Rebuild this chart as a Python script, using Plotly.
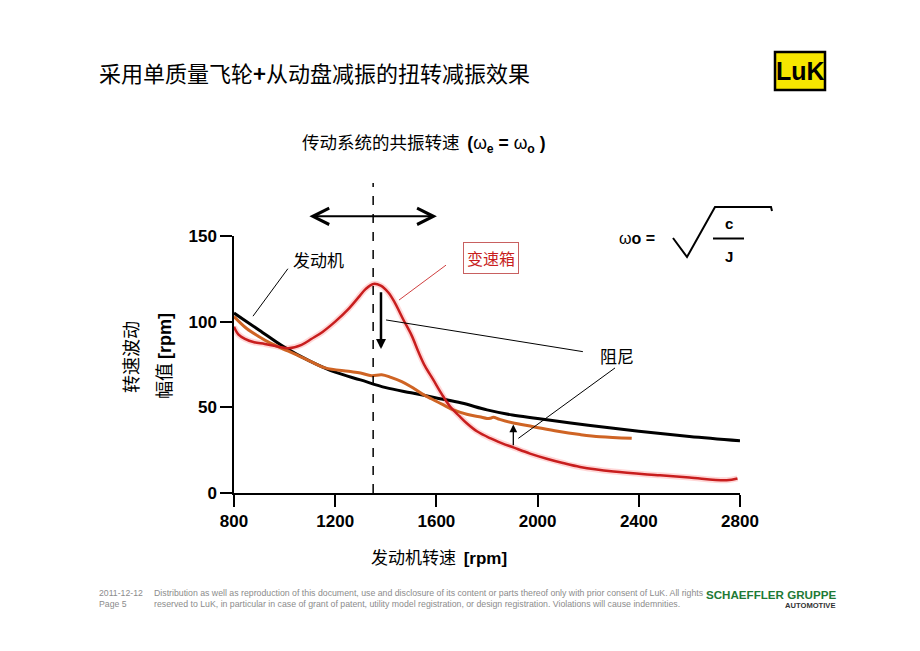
import plotly.graph_objects as go

# engine speed fluctuation (black)
engine_rpm = [800, 900, 1000, 1100, 1200, 1300, 1400, 1500, 1600, 1700, 1800,
              1900, 2000, 2200, 2400, 2600, 2800]
engine_amp = [105, 95, 85, 77, 70.5, 66, 61.5, 58.5, 55.5, 52.5, 48.5,
              45.5, 43.5, 39.5, 36, 33, 30.5]

# gearbox, single mass flywheel without damping (red)
gearbox_rpm = [800, 817, 843, 880, 922, 975, 1015, 1067, 1107, 1150, 1200, 1250,
               1291, 1320, 1351, 1380, 1410, 1436, 1470, 1502, 1530, 1555, 1588,
               1620, 1654, 1690, 1720, 1760, 1812, 1860, 1904, 1970, 2036, 2100,
               2168, 2300, 2484, 2600, 2747, 2790]
gearbox_amp = [97, 92.6, 90, 88, 87, 85.4, 84.5, 86.5, 90, 94, 100, 107,
               114, 119, 122, 121, 117, 111, 101, 92, 82, 74, 66,
               58, 50.5, 45, 40.7, 36, 32, 29, 26.6, 23, 20, 17.5,
               15.2, 12.5, 10.3, 9, 7.4, 8.5]

# gearbox with clutch disc damper (orange)
damped_rpm = [800, 850, 896, 950, 1015, 1100, 1160, 1252, 1300, 1344, 1384, 1420,
              1463, 1500, 1542, 1580, 1620, 1667, 1720, 1770, 1800, 1812, 1825,
              1850, 1900, 1983, 2080, 2168, 2247, 2372]
damped_amp = [103, 96, 91.5, 87, 82.8, 77, 73, 71, 70, 68.5, 69, 67.5,
              65, 62, 58, 55, 52, 48.5, 46, 44.5, 43.5, 43.6, 44.2,
              43, 41, 38.7, 36, 34.1, 32.8, 31.9]

x_ticks = [800, 1200, 1600, 2000, 2400, 2800]
y_ticks = [0, 50, 100, 150]

resonance_rpm = 1350
band_rpm = [1092, 1602]

# page has an 8px body margin, so the figure is a bit smaller than the window
W, H = 904, 635
L, T = 226, 228
PW, PH = 506, 257
R, B = W - L - PW, H - T - PH
X0, X1, Y0, Y1 = 800, 2800, 0, 150

CJK = "Noto Sans CJK SC"
ARIAL = "Liberation Sans"


def pix(x, y):
    # window pixel -> paper coords (plot area spans x 234..740, y 236..493 in the window)
    return (x - 234) / PW, (493 - y) / PH


def dat(rpm, val):
    # data value -> paper coords (for shapes outside the plot area)
    return (rpm - X0) / (X1 - X0), (val - Y0) / (Y1 - Y0)


fig = go.Figure()

# red curve with a soft pink halo
fig.add_trace(go.Scatter(x=gearbox_rpm, y=gearbox_amp, mode="lines",
                         line=dict(color="rgba(255,140,140,0.35)", width=6, shape="spline"),
                         hoverinfo="skip", showlegend=False))
fig.add_trace(go.Scatter(x=engine_rpm, y=engine_amp, mode="lines",
                         line=dict(color="black", width=3, shape="spline"),
                         showlegend=False))
fig.add_trace(go.Scatter(x=damped_rpm, y=damped_amp, mode="lines",
                         line=dict(color="#cf6424", width=3, shape="spline"),
                         showlegend=False))
fig.add_trace(go.Scatter(x=gearbox_rpm, y=gearbox_amp, mode="lines",
                         line=dict(color="#c81e1e", width=2.5, shape="spline"),
                         showlegend=False))

shapes = []
# dashed resonance line
a = dat(resonance_rpm, 0)
b = dat(resonance_rpm, 181)
shapes.append(dict(type="line", xref="paper", yref="paper", x0=a[0], y0=a[1], x1=b[0], y1=b[1],
                   line=dict(color="black", width=1.5, dash="dash")))


def seg(p, q, color="black", width=1):
    shapes.append(dict(type="line", xref="paper", yref="paper",
                       x0=p[0], y0=p[1], x1=q[0], y1=q[1],
                       line=dict(color=color, width=width)))


# leader lines
seg(dat(1013, 130.9), dat(875, 103.2))
seg(dat(1638, 133), dat(1452, 112.6), color="#d04040")
seg(dat(1401, 101), dat(2179, 82.5))
seg(dat(2306, 73), dat(1924, 31.9))

# square root sign and fraction bar
pts = [pix(673, 238), pix(687, 257), pix(715, 207), pix(771, 207), pix(772, 211)]
path = "M " + " L ".join(f"{p[0]},{p[1]}" for p in pts)
shapes.append(dict(type="path", xref="paper", yref="paper", path=path,
                   line=dict(color="black", width=2)))
seg(pix(713, 238.5), pix(744, 238.5), width=2)

# LuK logo box
p, q = pix(775, 52), pix(825, 90)
shapes.append(dict(type="rect", xref="paper", yref="paper", x0=p[0], y0=p[1], x1=q[0], y1=q[1],
                   fillcolor="#f6e600", line=dict(color="black", width=2.5)))

ann = []


def text(x, y, s, size, family=CJK, color="black", xa="center", ya="middle", **kw):
    px_, py_ = pix(x, y)
    ann.append(dict(x=px_, y=py_, xref="paper", yref="paper", text=s, showarrow=False,
                    xanchor=xa, yanchor=ya, font=dict(family=family, size=size, color=color), **kw))


text(97, 72, "采用单质量飞轮<b>+</b>从动盘减振的扭转减振效果", 22, xa="left")
text(800, 71, "<b>LuK</b>", 25, family="Liberation Sans Narrow, Liberation Sans")
text(300, 142, "传动系统的共振转速  <span style='font-family:Liberation Sans'><b>(</b>ω<sub><b>e</b></sub><b> = </b>ω<sub><b>o</b></sub><b> )</b></span>",
     17.5, xa="left")
text(318, 259, "发动机", 17)
text(491, 258, "变速箱", 16, color="#c81e1e", bordercolor="#c86060", borderwidth=1, borderpad=3)
text(617, 355, "阻尼", 17)
text(637, 238, "ω<b>o =</b>", 16, family=ARIAL)
text(729, 223, "<b>c</b>", 15, family=ARIAL)
text(729, 256, "<b>J</b>", 15, family=ARIAL)
text(130, 357, "转速波动", 18, textangle=-90)
text(163, 356, "幅值 <span style='font-family:Liberation Sans'><b>[rpm]</b></span>", 18, textangle=-90)
text(369, 556, "发动机转速  <span style='font-family:Liberation Sans'><b>[rpm]</b></span>", 17, xa="left")

grey = "#8c8c8c"
text(97, 593, "2011-12-12", 8.7, family=ARIAL, color=grey, xa="left")
text(97, 604, "Page 5", 8.7, family=ARIAL, color=grey, xa="left")
text(152, 593, "Distribution as well as reproduction of this document, use and disclosure of its content or parts thereof only with prior consent of LuK. All rights",
     8.75, family=ARIAL, color=grey, xa="left")
text(152, 604, "reserved to LuK, in particular in case of grant of patent, utility model registration, or design registration. Violations will cause indemnities.",
     8.75, family=ARIAL, color=grey, xa="left")
text(838, 594, "<b>SCHAEFFLER GRUPPE</b>", 11.6, family=ARIAL, color="#1e7a36", xa="right")
text(838, 605, "<b>AUTOMOTIVE</b>", 7.6, family=ARIAL, color="#333333", xa="right")

# double arrow marking the resonance band
hx, hy = dat(band_rpm[1], 161.5)
tail_dx = -(band_rpm[1] - band_rpm[0]) / (X1 - X0) * PW
ann.append(dict(x=hx, y=hy, xref="paper", yref="paper", ax=tail_dx, ay=0, text="",
                showarrow=True, arrowhead=5, startarrowhead=5, arrowside="end+start",
                arrowsize=1.6, startarrowsize=1.6, arrowwidth=2, arrowcolor="black"))
# damping arrows
ann.append(dict(x=1381, y=84, xref="x", yref="y", ax=1381, ay=118, axref="x", ayref="y",
                text="", showarrow=True, arrowhead=2, arrowsize=0.8, arrowwidth=2.5,
                arrowcolor="black"))
ann.append(dict(x=1904, y=40, xref="x", yref="y", ax=1904, ay=27, axref="x", ayref="y",
                text="", showarrow=True, arrowhead=2, arrowsize=1.2, arrowwidth=1.3,
                arrowcolor="black"))

fig.update_layout(
    width=W, height=H,
    margin=dict(l=L, r=R, t=T, b=B),
    paper_bgcolor="white", plot_bgcolor="white",
    shapes=shapes, annotations=ann,
    showlegend=False,
)
axis_common = dict(showline=True, linecolor="black", linewidth=1.5, ticks="outside",
                   ticklen=12, tickwidth=1.5, tickcolor="black", showgrid=False,
                   zeroline=False, tickfont=dict(family=ARIAL, size=17, color="black", weight="bold"))
fig.update_xaxes(range=[X0, X1], tickvals=x_ticks, **axis_common)
fig.update_yaxes(range=[Y0, Y1], tickvals=y_ticks, **axis_common)

fig.write_html("out.html")
